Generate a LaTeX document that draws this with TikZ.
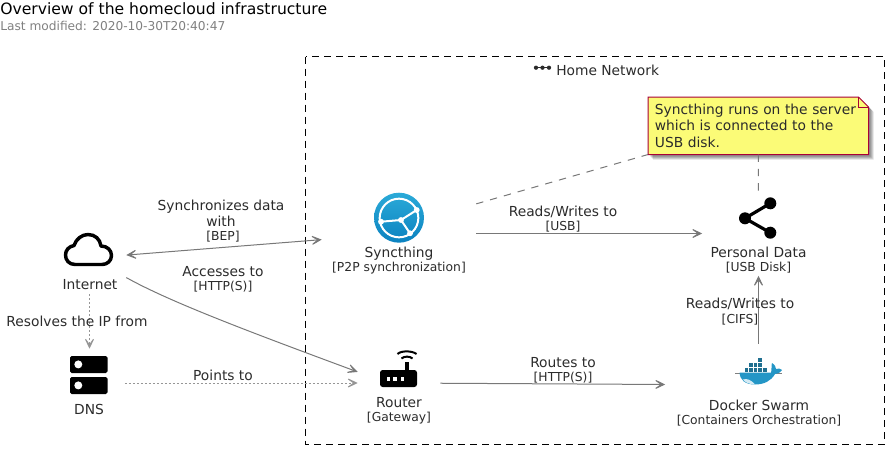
\documentclass[tikz,border=0pt]{standalone}
\usepackage{fontspec}
\setmainfont{DejaVu Sans}
\usetikzlibrary{arrows.meta,backgrounds}
\definecolor{linegray}{HTML}{787878}
\definecolor{dotgray}{HTML}{969696}
\definecolor{textgray}{HTML}{2B2B2B}
\definecolor{notefill}{HTML}{FBFB77}
\definecolor{noteline}{HTML}{A80036}
\definecolor{synctop}{HTML}{2BAAD8}
\definecolor{syncbottom}{HTML}{0B82C0}
\definecolor{dockerblue}{HTML}{2496C6}
\definecolor{dockerdark}{HTML}{1F6F90}
\tikzset{
  entity/.style 2 args={minimum width={#1*0.75pt},minimum height={#2*0.75pt},inner sep=0pt},
  nametext/.style={anchor=base,text=textgray,inner sep=0pt,font=\fontsize{10.35}{12.5}\selectfont},
  subtext/.style={anchor=base,text=textgray,inner sep=0pt,font=\fontsize{9.25}{11}\selectfont},
  relation/.style={draw=linegray,line width=0.75pt},
  dotline/.style={draw=dotgray,line width=0.75pt,dash pattern=on 1.5pt off 1.5pt,->},
  notelink/.style={draw=linegray,line width=0.75pt,dash pattern=on 5.5pt off 5.25pt},
}
\begin{document}
\begin{tikzpicture}[x=0.75pt,y=-0.75pt,>={Stealth[length=11pt,width=10.5pt,inset=7.5pt]}]
  \useasboundingbox (0,0) rectangle (894,455);
  % title
  \node (title) [anchor=base west,inner sep=0pt,font=\fontsize{11.7}{14}\selectfont] at (0,14.5) {Overview of the homecloud infrastructure};
  \node (modified) [anchor=base west,inner sep=0pt,text=gray,font=\fontsize{9.15}{11}\selectfont] at (0,30) {Last modified: 2020-10-30T20:40:47};
  % network boundary
  \draw[black,line width=0.75pt,dash pattern=on 5.25pt off 3.75pt] (305.5,56.5) rectangle (884.5,444);
  \node (network) [nametext,anchor=base west] at (556,75) {Home Network};
  \draw[textgray,line width=0.9pt] (536,67.7) -- (549,67.7);
  \foreach \px in {536,542.5,549} \fill[textgray] (\px,67.7) circle (1.6pt);
  % entities
  \node (internet) [entity={73}{72}] at (89.5,258) {};
  \node (dns) [entity={70}{68}] at (89.5,383) {};
  \node (syncthing) [entity={154}{84}] at (399,233.5) {};
  \node (personal) [entity={112}{84}] at (758.5,233.5) {};
  \node (router) [entity={82}{68}] at (399,383) {};
  \node (docker) [entity={186}{82}] at (758.5,385) {};
  % names
  \node (internetname) [nametext] at (90,289) {Internet};
  \node (dnsname) [nametext] at (89,414) {DNS};
  \node (syncthingname) [nametext] at (399,257) {Syncthing};
  \node (syncthingtype) [subtext] at (399,271) {[P2P synchronization]};
  \node (personalname) [nametext] at (758.5,257) {Personal Data};
  \node (personaltype) [subtext] at (758.5,271) {[USB Disk]};
  \node (routername) [nametext] at (399,407) {Router};
  \node (routertype) [subtext] at (399,421) {[Gateway]};
  \node (dockername) [nametext] at (759,410) {Docker Swarm};
  \node (dockertype) [subtext] at (759,424) {[Containers Orchestration]};
  % note
  \node (note) [anchor=north west,minimum width=165pt,minimum height=42.75pt,inner xsep=5pt,inner ysep=0pt,
    text width=155pt,align=left,text=textgray,font=\fontsize{10.35}{12.4}\selectfont] at (648,97)
    {Syncthing runs on the server\\which is connected to the\\USB disk.};
  \begin{scope}[on background layer]
    \foreach \s in {2,3,4,5}
      \fill[black,opacity=0.13] ([shift={(\s,\s)}]note.north west) -- ([shift={(\s-10,\s)}]note.north east)
        -- ([shift={(\s,\s+10)}]note.north east) -- ([shift={(\s,\s)}]note.south east)
        -- ([shift={(\s,\s)}]note.south west) -- cycle;
    \draw[fill=notefill,draw=noteline,line width=0.75pt] (note.north west) -- ([xshift=-7.5pt]note.north east)
      -- ([yshift=-7.5pt]note.north east) -- (note.south east) -- (note.south west) -- cycle;
    \draw[draw=noteline,line width=0.75pt] ([xshift=-7.5pt]note.north east) -- ([xshift=-7.5pt,yshift=-7.5pt]note.north east)
      -- ([yshift=-7.5pt]note.north east);
  \end{scope}
  % cloud
  \draw[black,line width=2.6pt,line join=round] (75,264.5) .. controls (69,264.5) and (65.5,260) .. (65.5,255)
    .. controls (65.5,250) and (69,246.5) .. (74,245.5) .. controls (76,239) and (82,234.5) .. (88,234.5)
    .. controls (95,234.5) and (100,239) .. (101,246) .. controls (107,246) and (111.5,250) .. (111.5,255.5)
    .. controls (111.5,261) and (107,264.5) .. (102,264.5) -- cycle;
  % dns
  \foreach \py in {356,377} {
    \fill[black,rounded corners=1.2pt] (70,\py) rectangle (107.5,\py+17);
    \fill[white] (78.3,\py+8.4) circle (3pt);
  }
  % syncthing
  \shade[top color=synctop,bottom color=syncbottom] (399,217.7) circle (18.75pt);
  \draw[white,line width=1.5pt] (399,218) circle (14.5pt);
  \draw[white,line width=1.5pt] (381,221.7) -- (401,220) -- (416.7,210) (401,220) -- (410,233.3);
  \foreach \px/\py in {381/221.7,416.7/210,401/220,410/233.3} \fill[white] (\px,\py) circle (2.2pt);
  % personal data
  \draw[black,line width=2.4pt] (770.3,203.3) -- (745,218.3) -- (770.3,232.7);
  \foreach \py/\px in {203.3/770.3,218.3/745,232.7/770.3} \fill[black] (\px,\py) circle (4.5pt);
  % router
  \fill[black,rounded corners=2pt] (380,370) rectangle (417,387);
  \fill[black] (405,362) rectangle (409,370);
  \foreach \px in {386.5,393,400.5} \fill[white] (\px,377) rectangle +(3.7,4);
  \draw[black,line width=1.5pt] (397.5,354) .. controls (401,350.5) and (412,350.5) .. (416.5,354);
  \draw[black,line width=1.5pt] (401.5,358.5) .. controls (404,356) and (410,356) .. (412.5,358.5);
  % docker
  \draw[gray,line width=0.4pt] (735,373) -- (782,373);
  \foreach \px/\py in {757/357,748/362,753/362,757/362,744/367,748/367,753/367,757/367,762/367}
    \fill[dockerdark,draw=white,line width=0.15pt] (\px,\py) rectangle +(4.8,5);
  \fill[dockerblue] (739.5,372.5) -- (771,372.5) .. controls (772,370) and (771,366) .. (772,363)
    .. controls (775,365) and (776,367) .. (776,369) .. controls (778,368) and (781,368.5) .. (782,370)
    .. controls (780,373) and (777,374) .. (775,374) .. controls (771,381) and (764,384.5) .. (755,384.5)
    .. controls (745,384.5) and (740,380) .. (739.5,372.5) -- cycle;
  \fill[white!80!dockerblue] (743,379.5) .. controls (747,378) and (751,380) .. (755,384.3) .. controls (749,384.3) and (745,382.5) .. (743,379.5) -- cycle;
  % connectors
  \draw[relation,<->] (internet) -- (syncthing);
  \draw[relation,->] (internet.-28.7) .. controls (170,302) and (250,332) .. (router.165);
  \draw[dotline] (internet) -- (dns);
  \draw[dotline] (dns) -- (router);
  \draw[relation,->] (syncthing) -- (personal);
  \draw[relation,->] (router) -- (docker);
  \draw[relation,->] (docker) -- (personal);
  \draw[notelink] (syncthing.21.3) -- (note.south west);
  \draw[notelink] (note) -- (personal);
  % connector labels
  \node (synclabel) [nametext] at (221,210) {Synchronizes data};
  \node (withlabel) [nametext] at (221,226) {with};
  \node (beplabel) [subtext] at (223,240) {[BEP]};
  \node (accesslabel) [nametext] at (223,276) {Accesses to};
  \node (accesstype) [subtext] at (223,290) {[HTTP(S)]};
  \node (resolvelabel) [nametext] at (77,326) {Resolves the IP from};
  \node (pointslabel) [nametext] at (223,380) {Points to};
  \node (usblabel) [nametext] at (563,216) {Reads/Writes to};
  \node (usbtype) [subtext] at (563,230) {[USB]};
  \node (routeslabel) [nametext] at (563,367) {Routes to};
  \node (routestype) [subtext] at (563,381) {[HTTP(S)]};
  \node (cifslabel) [nametext] at (740,308) {Reads/Writes to};
  \node (cifstype) [subtext] at (740,323) {[CIFS]};
\end{tikzpicture}
\end{document}
